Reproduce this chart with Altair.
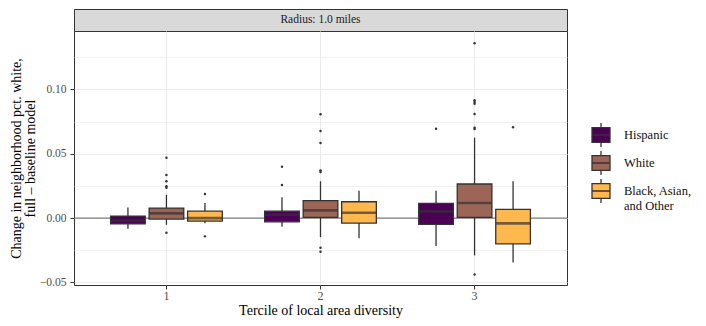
import altair as alt
import pandas as pd

terciles = ["1", "2", "3"]
groups = ["Hispanic", "White", "Black, Asian, and Other"]
colors = ["#4B0055", "#9C6656", "#FFB84D"]

# box statistics (tercile-major, group-minor)
box_tercile = ["1", "1", "1", "2", "2", "2", "3", "3", "3"]
box_group = groups * 3
lower_whisker = [-0.0083, -0.0052, -0.0041, -0.0068, -0.0148, -0.0156, -0.0216, -0.0290, -0.0345]
q1 = [-0.0044, -0.0008, -0.0023, -0.0029, 0.0005, -0.0039, -0.0049, 0.0005, -0.0200]
median = [-0.0021, 0.0037, 0.0000, 0.0026, 0.0060, 0.0041, 0.0052, 0.0117, -0.0041]
q3 = [0.0016, 0.0078, 0.0054, 0.0054, 0.0135, 0.0127, 0.0114, 0.0265, 0.0068]
upper_whisker = [0.0083, 0.0181, 0.0117, 0.0161, 0.0286, 0.0212, 0.0212, 0.0625, 0.0286]

# outliers
out_tercile = ["1"] * 6 + ["1"] * 2 + ["2"] * 2 + ["2"] * 7 + ["3"] + ["3"] * 8 + ["3"]
out_group = (["White"] * 6 + ["Black, Asian, and Other"] * 2 + ["Hispanic"] * 2 +
             ["White"] * 7 + ["Hispanic"] + ["White"] * 8 + ["Black, Asian, and Other"])
out_value = [0.0469, 0.0335, 0.0286, 0.0247, 0.0236, -0.0114,
             0.0187, -0.0142,
             0.0399, 0.0257,
             0.0807, 0.0677, 0.0584, 0.0371, 0.0358, -0.0231, -0.0262,
             0.0695,
             0.1359, 0.0916, 0.0902, 0.0889, 0.0809, 0.0703, 0.0692, -0.0438,
             0.0706]

y_ticks = [-0.05, -0.025, 0.0, 0.025, 0.05, 0.075, 0.10, 0.125]
strip_label = ["Radius: 1.0 miles"]

FONT = "Liberation Serif"
INK = "#333333"

boxes = pd.DataFrame({
    "tercile": box_tercile, "group": box_group, "lo": lower_whisker,
    "q1": q1, "median": median, "q3": q3, "hi": upper_whisker,
})
outliers = pd.DataFrame({"tercile": out_tercile, "group": out_group, "value": out_value})

major = "abs(round(datum.value * 40)) % 2 == 0"

x_enc = alt.X(
    "tercile:N",
    scale=alt.Scale(domain=terciles, paddingInner=0.25, paddingOuter=0.225),
    axis=alt.Axis(title="Tercile of local area diversity", labelAngle=0, grid=True,
                  bandPosition=0.5, tickSize=4, labelPadding=1, titlePadding=2,
                  labelFont=FONT, titleFont=FONT, labelFontSize=12),
)
xo_enc = alt.XOffset("group:N", scale=alt.Scale(domain=groups, paddingInner=0.1, paddingOuter=0.05))
y_scale = alt.Scale(domain=[-0.052, 0.1454], nice=False, zero=False)
y_axis = alt.Axis(
    title=["Change in neighborhood pct. white,", "full \u2013 baseline model"],
    values=y_ticks,
    labelExpr=f"{major} ? replace(format(datum.value, '.2f'), '-', '\u2212') : ''",
    tickOpacity={"condition": {"test": major, "value": 1}, "value": 0},
    gridWidth={"condition": {"test": major, "value": 1}, "value": 0.7},
    tickSize=4, labelPadding=4, titlePadding=2, titleLineHeight=14,
    labelFont=FONT, titleFont=FONT, labelFontSize=11.5,
)

base = alt.Chart(boxes)

hline = alt.Chart(pd.DataFrame({"v": [0.0]})).mark_rule(color="#7F7F7F", strokeWidth=1.1).encode(
    y=alt.Y("v:Q", scale=y_scale, axis=y_axis)
)
whisk = base.mark_rule(color=INK, strokeWidth=1.3).encode(
    x=x_enc, xOffset=xo_enc, y=alt.Y("lo:Q", scale=y_scale, axis=y_axis), y2="hi:Q"
)
legend_path = ("M-0.75,-0.62H0.75V0.62H-0.75Z M-0.75,0H0.75 M0,-0.62V-1 M0,0.62V1")
box = base.mark_bar(stroke=INK, strokeWidth=1.3).encode(
    x=x_enc, xOffset=xo_enc, y=alt.Y("q1:Q", scale=y_scale, axis=y_axis), y2="q3:Q",
    fill=alt.Fill("group:N", scale=alt.Scale(domain=groups, range=colors),
                  legend=alt.Legend(
                      title=None, orient="none", legendX=514, legendY=113,
                      symbolType=legend_path, symbolSize=576,
                      symbolStrokeColor=INK, symbolStrokeWidth=1.3,
                      labelFont=FONT, labelFontSize=12.5, labelColor="#111111",
                      labelOffset=10, rowPadding=-6, labelLimit=200,
                      labelExpr="datum.label == 'Black, Asian, and Other' ? ['Black, Asian,', 'and Other'] : datum.label",
                  )),
)
med = base.mark_tick(color=INK, thickness=2.6, size=34.6).encode(
    x=x_enc, xOffset=xo_enc, y=alt.Y("median:Q", scale=y_scale, axis=y_axis)
)
pts = alt.Chart(outliers).mark_circle(color=INK, size=6, opacity=1).encode(
    x=x_enc, xOffset=xo_enc, y=alt.Y("value:Q", scale=y_scale, axis=y_axis)
)

main = alt.layer(hline, whisk, box, med, pts).properties(
    width=493, height=254, view=alt.ViewBackground(fill="white", stroke=INK, strokeWidth=1)
)

strip = alt.Chart(pd.DataFrame({"label": strip_label})).mark_text(
    font=FONT, fontSize=11.5, color="#1A1A1A", baseline="middle"
).encode(
    text="label:N",
    x=alt.X("label:N", axis=None),
    y=alt.value(11),
).properties(width=493, height=22, view=alt.ViewBackground(fill="#D9D9D9", stroke=INK, strokeWidth=1))

chart = alt.vconcat(strip, main, spacing=0, bounds="flush").properties(
    padding={"left": 0, "top": 0, "right": 0, "bottom": 0}, background="white"
).configure_axis(
    domain=False, tickColor=INK, labelColor="#4D4D4D", labelFont=FONT, labelFontSize=12,
    titleFont=FONT, titleFontSize=14, titleFontWeight="normal", titleColor="#000000",
    gridColor="#EBEBEB",
).configure_legend(
    labelFont=FONT, labelFontSize=12.5
)

chart.save("out.html", embed_options={"renderer": "svg", "actions": False})
